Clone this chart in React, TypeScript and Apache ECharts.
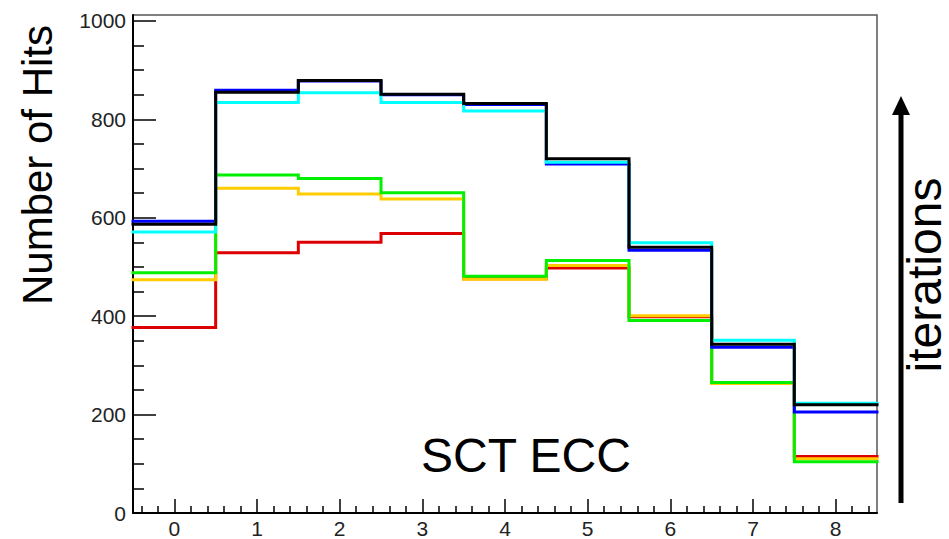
import React, { useEffect, useRef } from "react";
import * as echarts from "echarts";

// Bin centres of the histogram (x), each bin is 1 wide
const binCenters = [0, 1, 2, 3, 4, 5, 6, 7, 8];

// Number of hits per bin for each iteration
const redHits = [377, 529, 550, 568, 476, 498, 399, 264, 115];
const orangeHits = [474, 660, 648, 638, 475, 503, 401, 263, 110];
const greenHits = [488, 687, 680, 651, 481, 513, 391, 265, 104];
const blueHits = [593, 859, 878, 850, 830, 709, 534, 337, 205];
const cyanHits = [571, 834, 854, 834, 817, 713, 549, 351, 223];
const blackHits = [587, 855, 879, 851, 832, 720, 540, 343, 220];

// Axis tick values
const xTickValues = [0, 1, 2, 3, 4, 5, 6, 7, 8];
const xMinorTickValues = [
  -0.4, -0.2, 0.2, 0.4, 0.6, 0.8, 1.2, 1.4, 1.6, 1.8, 2.2, 2.4, 2.6, 2.8,
  3.2, 3.4, 3.6, 3.8, 4.2, 4.4, 4.6, 4.8, 5.2, 5.4, 5.6, 5.8, 6.2, 6.4, 6.6,
  6.8, 7.2, 7.4, 7.6, 7.8, 8.2, 8.4,
];
const yTickValues = [0, 200, 400, 600, 800, 1000];
const yMinorTickValues = [
  50, 100, 150, 250, 300, 350, 450, 500, 550, 650, 700, 750, 850, 900, 950,
];

const yTitle = "Number of Hits";
const sideLabel = "iterations";
const plotLabel = "SCT ECC";

const FONT = '"Liberation Sans", Arial, sans-serif';

function toSteps(vals: number[]): number[][] {
  const pts = vals.map((v, i) => [binCenters[i] - 0.5, v]);
  pts.push([binCenters[binCenters.length - 1] + 0.5, vals[vals.length - 1]]);
  return pts;
}

const seriesDefs = [
  { name: "iter1", data: redHits, color: "#dd0000" },
  { name: "iter2", data: orangeHits, color: "#ffcc00" },
  { name: "iter3", data: greenHits, color: "#00f000" },
  { name: "iter4", data: blueHits, color: "#0000ff" },
  { name: "iter5", data: cyanHits, color: "#00ffff" },
  { name: "iter6", data: blackHits, color: "#000000" },
];

export default function App() {
  const ref = useRef<HTMLDivElement>(null);

  useEffect(() => {
    if (!ref.current) return;
    const chart = echarts.init(ref.current, undefined, { renderer: "svg" });

    const tickLine = { color: "#000", width: 1.5 };
    const plainNumber = (v: number) => String(v);

    const option: any = {
      animation: false,
      backgroundColor: "#ffffff",
      grid: {
        left: 133,
        right: 72,
        top: 15,
        bottom: 22,
        show: true,
        borderColor: "#555",
        borderWidth: 1.5,
        backgroundColor: "transparent",
      },
      xAxis: [
        {
          type: "value",
          min: -0.5,
          max: 8.5,
          position: "bottom",
          axisLine: { show: true, onZero: false, lineStyle: { color: "#000", width: 2 } },
          splitLine: { show: false },
          axisTick: {
            show: true,
            inside: true,
            length: 14,
            customValues: xTickValues,
            lineStyle: tickLine,
          },
          axisLabel: {
            show: true,
            customValues: xTickValues,
            formatter: plainNumber,
            margin: 5,
            fontSize: 21,
            color: "#222",
            fontFamily: FONT,
          },
        },
        {
          type: "value",
          min: -0.5,
          max: 8.5,
          position: "bottom",
          axisLine: { show: false, onZero: false },
          splitLine: { show: false },
          axisTick: {
            show: true,
            inside: true,
            length: 7,
            customValues: xMinorTickValues,
            lineStyle: tickLine,
          },
          axisLabel: { show: false },
        },
      ],
      yAxis: [
        {
          type: "value",
          min: 0,
          max: 1012,
          position: "left",
          axisLine: { show: true, onZero: false, lineStyle: { color: "#000", width: 2 } },
          splitLine: { show: false },
          axisTick: {
            show: true,
            inside: true,
            length: 23,
            customValues: yTickValues,
            lineStyle: tickLine,
          },
          axisLabel: {
            show: true,
            customValues: yTickValues,
            formatter: plainNumber,
            margin: 7,
            fontSize: 21,
            color: "#222",
            fontFamily: FONT,
          },
        },
        {
          type: "value",
          min: 0,
          max: 1012,
          position: "left",
          axisLine: { show: false, onZero: false },
          splitLine: { show: false },
          axisTick: {
            show: true,
            inside: true,
            length: 11,
            customValues: yMinorTickValues,
            lineStyle: tickLine,
          },
          axisLabel: { show: false },
        },
      ],
      series: seriesDefs.map((s) => ({
        name: s.name,
        type: "line",
        step: "end",
        xAxisIndex: 0,
        yAxisIndex: 0,
        data: toSteps(s.data),
        showSymbol: false,
        symbol: "none",
        lineStyle: { color: s.color, width: 3, cap: "square", join: "miter" },
        itemStyle: { color: s.color },
        emphasis: { disabled: true },
      })),
      graphic: [
        {
          type: "text",
          x: 37,
          y: 165,
          rotation: Math.PI / 2,
          style: {
            text: yTitle,
            fontSize: 42,
            lineHeight: 42,
            fontFamily: FONT,
            fill: "#000",
            align: "center",
            verticalAlign: "middle",
          },
        },
        {
          type: "text",
          x: 924,
          y: 275,
          rotation: Math.PI / 2,
          style: {
            text: sideLabel,
            fontSize: 48,
            lineHeight: 48,
            fontFamily: FONT,
            fill: "#000",
            align: "center",
            verticalAlign: "middle",
          },
        },
        {
          type: "text",
          x: 526,
          y: 455,
          style: {
            text: plotLabel,
            fontSize: 48,
            fontFamily: FONT,
            fill: "#000",
            align: "center",
            verticalAlign: "middle",
          },
        },
        {
          type: "line",
          shape: { x1: 901, y1: 503, x2: 901, y2: 110 },
          style: { stroke: "#000", lineWidth: 5 },
        },
        {
          type: "polygon",
          shape: { points: [[892, 115], [910, 115], [901, 96]] },
          style: { fill: "#000" },
        },
      ],
    };

    chart.setOption(option);
    return () => chart.dispose();
  }, []);

  return (
    <div
      ref={ref}
      style={{ position: "fixed", left: 0, top: 0, width: 949, height: 539, background: "#fff" }}
    />
  );
}
